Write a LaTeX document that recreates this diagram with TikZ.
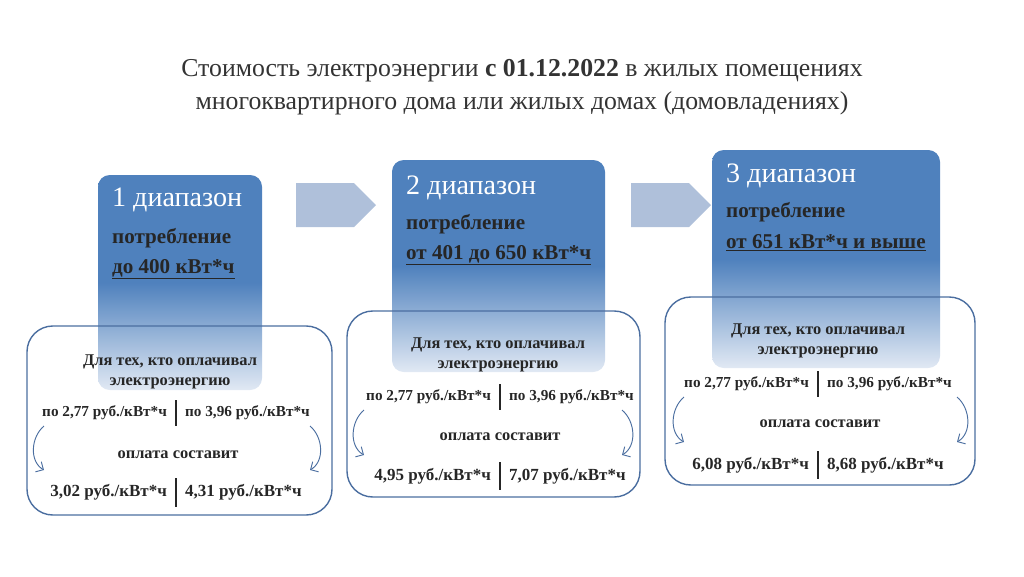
\documentclass[tikz,border=0pt]{standalone}
\usepackage{fontspec}
\setmainfont{Liberation Serif}
\usetikzlibrary{shapes.arrows,arrows.meta}
\definecolor{bandblue}{RGB}{79,129,189}
\definecolor{bandpale}{RGB}{225,233,244}
\definecolor{arrowgray}{RGB}{175,192,218}
\definecolor{rimblue}{RGB}{75,110,160}
\newlength\px \setlength\px{0.03cm}
\tikzset{
  band/.style={top color=bandblue, bottom color=bandpale, middle color=bandblue, rounded corners=10pt},
  frame/.style={draw=rimblue, line width=1.2pt, rounded corners=22pt},
  bandtitle/.style={anchor=west, text=white, font=\fontsize{24}{26}\selectfont},
  bandtext/.style={anchor=west, text=black!85, font=\bfseries\fontsize{18}{20}\selectfont},
  inner/.style={text=black!85, font=\bfseries\fontsize{14}{17}\selectfont},
  price/.style={text=black!85, font=\bfseries\fontsize{13}{15}\selectfont},
  result/.style={text=black!85, font=\bfseries\fontsize{14.5}{16}\selectfont},
  sep/.style={draw=black!85, line width=1.3pt},
  curl/.style={draw=rimblue, line width=0.8pt, -{Straight Barb[length=5pt]}},
  stagearrow/.style={single arrow, fill=arrowgray, draw=none, minimum height=80\px, minimum width=44\px, single arrow head extend=0pt, inner sep=0pt}
}
\begin{document}
\begin{tikzpicture}[x=0.03cm, y=-0.03cm]
  \useasboundingbox (0,0) rectangle (1024,576);
  % title
  \node[align=center, font=\fontsize{22}{28}\selectfont, text=black!80] (title) at (522,87)
    {Стоимость электроэнергии \textbf{с 01.12.2022} в жилых помещениях\\многоквартирного дома или жилых домах (домовладениях)};
  % arrows
  \node[stagearrow] (step1) at (325,205) {};
  \node[stagearrow] (step2) at (660,205) {};
  % panel 1
  \shade[band] (98,175) rectangle (262,390);
  \draw[frame] (27,326) rectangle (332,515);
  \node[bandtitle] (t1) at (108,200) {1 диапазон};
  \node[bandtext] (c1) at (108,238) {потребление};
  \node[bandtext] (r1) at (108,269) {\underline{до 400 кВт*ч}};
  \node[inner, align=center] (w1) at (170,372) {Для тех, кто оплачивал\\электроэнергию};
  \node[price, anchor=east] (a1) at (171,413) {по 2,77 руб./кВт*ч};
  \node[price, anchor=west] (b1) at (181,413) {по 3,96 руб./кВт*ч};
  \draw[sep] (176,400) -- (176,426);
  \node[inner] (o1) at (178,455) {оплата составит};
  \node[result, anchor=east] (x1) at (171,492) {3,02 руб./кВт*ч};
  \node[result, anchor=west] (y1) at (181,492) {4,31 руб./кВт*ч};
  \draw[sep] (176,478) -- (176,507);
  \coordinate (p1) at (44,426); \coordinate (q1) at (44,470);
  \coordinate (m1) at (310,426); \coordinate (n1) at (310,470);
  \draw[curl] (p1) to[out=220, in=150] (q1);
  \draw[curl] (m1) to[out=-40, in=30] (n1);
  % panel 2
  \shade[band] (392,160) rectangle (605,372);
  \draw[frame] (347,311) rectangle (640,497);
  \node[bandtitle] (t2) at (402,188) {2 диапазон};
  \node[bandtext] (c2) at (402,224) {потребление};
  \node[bandtext] (r2) at (402,255) {\underline{от 401 до 650 кВт*ч}};
  \node[inner, align=center] (w2) at (498,355) {Для тех, кто оплачивал\\электроэнергию};
  \node[price, anchor=east] (a2) at (495,397) {по 2,77 руб./кВт*ч};
  \node[price, anchor=west] (b2) at (505,397) {по 3,96 руб./кВт*ч};
  \draw[sep] (500,384) -- (500,410);
  \node[inner] (o2) at (500,437) {оплата составит};
  \node[result, anchor=east] (x2) at (495,476) {4,95 руб./кВт*ч};
  \node[result, anchor=west] (y2) at (505,476) {7,07 руб./кВт*ч};
  \draw[sep] (500,462) -- (500,490);
  \coordinate (p2) at (364,410); \coordinate (q2) at (364,455);
  \coordinate (m2) at (622,410); \coordinate (n2) at (622,455);
  \draw[curl] (p2) to[out=220, in=150] (q2);
  \draw[curl] (m2) to[out=-40, in=30] (n2);
  % panel 3
  \shade[band] (712,150) rectangle (940,368);
  \draw[frame] (665,297) rectangle (975,485);
  \node[bandtitle] (t3) at (722,176) {3 диапазон};
  \node[bandtext] (c3) at (722,212) {потребление};
  \node[bandtext] (r3) at (722,243) {\underline{от 651 кВт*ч и выше}};
  \node[inner, align=center] (w3) at (818,341) {Для тех, кто оплачивал\\электроэнергию};
  \node[price, anchor=east] (a3) at (813,384) {по 2,77 руб./кВт*ч};
  \node[price, anchor=west] (b3) at (823,384) {по 3,96 руб./кВт*ч};
  \draw[sep] (818,371) -- (818,397);
  \node[inner] (o3) at (820,424) {оплата составит};
  \node[result, anchor=east] (x3) at (813,465) {6,08 руб./кВт*ч};
  \node[result, anchor=west] (y3) at (823,465) {8,68 руб./кВт*ч};
  \draw[sep] (818,451) -- (818,479);
  \coordinate (p3) at (684,397); \coordinate (q3) at (684,442);
  \coordinate (m3) at (957,397); \coordinate (n3) at (957,442);
  \draw[curl] (p3) to[out=220, in=150] (q3);
  \draw[curl] (m3) to[out=-40, in=30] (n3);
\end{tikzpicture}
\end{document}
